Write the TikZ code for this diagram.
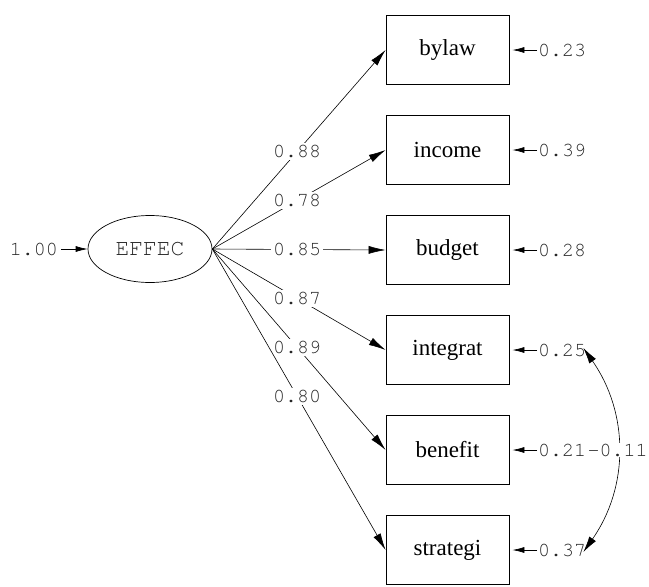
\documentclass[tikz,border=0pt]{standalone}
\usepackage{fontspec}
\setmainfont{Liberation Serif}
\setmonofont{TeX Gyre Cursor}
\usetikzlibrary{arrows.meta,shapes.geometric}

\begin{document}
\begin{tikzpicture}[x=1pt,y=-1pt,
  var/.style={draw, line width=0.8pt, minimum width=123pt, minimum height=69pt,
    font=\fontsize{23}{26}\selectfont},
  lat/.style={draw, ellipse, line width=0.7pt, minimum width=124pt, minimum height=67pt,
    inner sep=0pt, font=\fontsize{23}{25}\ttfamily, text=black!85},
  coef/.style={fill=white, inner sep=2pt, font=\fontsize{20}{22}\ttfamily, text=black!85},
  res/.style={anchor=west, inner sep=1pt, font=\fontsize{20}{22}\ttfamily, text=black!85},
  loading/.style={line width=0.6pt, -{Latex[length=17pt,width=8pt]}},
  err/.style={line width=0.7pt, -{Latex[length=12pt,width=6pt]}, shorten >=3pt},
  cov/.style={line width=0.6pt, {Latex[length=16pt,width=8pt]}-{Latex[length=16pt,width=8pt]}},
]
\fill[white] (0,0) rectangle (649,587);
\useasboundingbox (0,0) rectangle (649,587);

% latent factor
\node[lat] (F) at (150,249) {EFFEC};
\node[res, anchor=east] (z) at (59,249) {1.00};
\draw[err, shorten >=0pt, shorten <=2pt] (z.east) -- (F.west);

% indicators
\node[var] (v1) at (447.5,50)  {bylaw};
\node[var] (v2) at (447.5,150) {income};
\node[var] (v3) at (447.5,250) {budget};
\node[var] (v4) at (447.5,350) {integrat};
\node[var] (v5) at (447.5,450) {benefit};
\node[var] (v6) at (447.5,550) {strategi};

% error variances
\node[res] (e1) at (537,50)  {0.23};
\node[res] (e2) at (537,150) {0.39};
\node[res] (e3) at (537,250) {0.28};
\node[res] (e4) at (537,350) {0.25};
\node[res] (e5) at (537,450) {0.21};
\node[res] (e6) at (537,550) {0.37};
\foreach \i in {1,...,6} \draw[err] (e\i.west) -- (v\i.east);

% loadings
\draw[loading] (F.east) -- node[coef,pos=0.49] {0.88} (v1.west);
\draw[loading] (F.east) -- node[coef,pos=0.49] {0.78} (v2.west);
\draw[loading] (F.east) -- node[coef,pos=0.49] {0.85} (v3.west);
\draw[loading] (F.east) -- node[coef,pos=0.49] {0.87} (v4.west);
\draw[loading] (F.east) -- node[coef,pos=0.49] {0.89} (v5.west);
\draw[loading] (F.east) -- node[coef,pos=0.49] {0.80} (v6.west);

% error covariance
\draw[cov] ([xshift=-4pt,yshift=2pt]e4.east) to[bend left=35]
  node[coef, inner sep=1pt] {-0.11} ([xshift=-4pt,yshift=-2pt]e6.east);
\end{tikzpicture}
\end{document}
